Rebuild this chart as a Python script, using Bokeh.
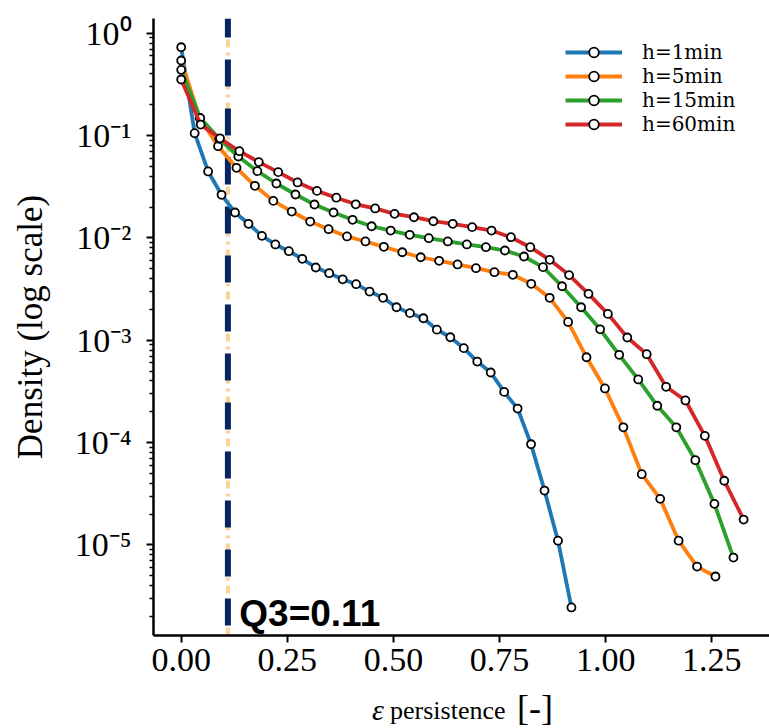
import math
from bokeh.plotting import figure
from bokeh.layouts import column
from bokeh.models import (Range1d, FixedTicker, CustomJSTickFormatter, Label,
                          Legend, LegendItem, ColumnDataSource, Div)
from bokeh.embed import file_html
from bokeh.resources import INLINE

# ---------------- data ----------------
labels = ["h=1min", "h=5min", "h=15min", "h=60min"]
colors = ["#1f77b4", "#ff7f0e", "#2ca02c", "#d62728"]

x_1min = [0.0, 0.0317, 0.0634, 0.0951, 0.1268, 0.1585, 0.1902, 0.2219, 0.2536, 0.2853,
          0.3170, 0.3487, 0.3804, 0.4121, 0.4438, 0.4755, 0.5072, 0.5389, 0.5706, 0.6023,
          0.6340, 0.6657, 0.6974, 0.7291, 0.7608, 0.7925, 0.8242, 0.8559, 0.8876, 0.9193]
d_1min = [0.729, 0.1054, 0.04457, 0.02636, 0.01770, 0.01374, 0.01047, 0.00863, 0.00741, 0.00625,
          0.00514, 0.00452, 0.00394, 0.00353, 0.00299, 0.00260, 0.00210, 0.00184, 0.00164, 0.00127,
          0.00107, 0.000837, 0.000619, 0.000484, 0.000313, 0.000215, 0.0000964, 0.0000340,
          0.0000110, 0.00000245]

x_5min = [0.0, 0.0434, 0.0868, 0.1302, 0.1736, 0.2170, 0.2604, 0.3038, 0.3472, 0.3906,
          0.4340, 0.4774, 0.5208, 0.5642, 0.6076, 0.6510, 0.6944, 0.7378, 0.7812, 0.8246,
          0.8680, 0.9114, 0.9548, 0.9982, 1.0416, 1.0850, 1.1284, 1.1718, 1.2152, 1.2586]
d_5min = [0.541, 0.149, 0.0787, 0.0484, 0.0323, 0.0230, 0.0181, 0.01445, 0.01216, 0.01033,
          0.00923, 0.00818, 0.00724, 0.00647, 0.00597, 0.00550, 0.00506, 0.00462, 0.00436, 0.00356,
          0.00260, 0.00151, 0.000682, 0.000338, 0.000141, 0.0000491, 0.0000282, 0.0000110,
          0.00000615, 0.00000492]

x_15min = [0.0, 0.0449, 0.0897, 0.1346, 0.1794, 0.2243, 0.2692, 0.3140, 0.3589, 0.4037,
           0.4486, 0.4935, 0.5383, 0.5832, 0.6280, 0.6729, 0.7178, 0.7626, 0.8075, 0.8523,
           0.8972, 0.9421, 0.9869, 1.0318, 1.0766, 1.1215, 1.1664, 1.2112, 1.2561, 1.3009]
d_15min = [0.4385, 0.148, 0.0929, 0.0624, 0.0449, 0.0340, 0.02655, 0.0212, 0.0177, 0.01503,
           0.0130, 0.0118, 0.01072, 0.00993, 0.00923, 0.00863, 0.00811, 0.00753, 0.00658, 0.00518,
           0.00337, 0.00210, 0.00128, 0.000721, 0.000414, 0.000229, 0.000141, 0.0000673,
           0.0000252, 0.00000753]

x_60min = [0.0, 0.0457, 0.0914, 0.1371, 0.1828, 0.2285, 0.2741, 0.3198, 0.3655, 0.4112,
           0.4569, 0.5026, 0.5483, 0.5940, 0.6397, 0.6854, 0.7310, 0.7767, 0.8224, 0.8681,
           0.9138, 0.9595, 1.0052, 1.0509, 1.0966, 1.1423, 1.1879, 1.2336, 1.2793, 1.3250]
d_60min = [0.353, 0.128, 0.0940, 0.0703, 0.0550, 0.0439, 0.0348, 0.0288, 0.0247, 0.0213,
           0.0194, 0.01718, 0.01592, 0.01455, 0.01374, 0.01274, 0.0118, 0.01016, 0.00811, 0.00611,
           0.00433, 0.00284, 0.00181, 0.001064, 0.000731, 0.000351, 0.000258, 0.0001164,
           0.0000424, 0.0000177]

Q3 = 0.11

x_ticks = [0.0, 0.25, 0.5, 0.75, 1.0, 1.25]
x_tick_labels = ["0.00", "0.25", "0.50", "0.75", "1.00", "1.25"]
y_ticks = [1e-5, 1e-4, 1e-3, 1e-2, 1e-1, 1.0]

series_x = [x_1min, x_5min, x_15min, x_60min]
series_d = [d_1min, d_5min, d_15min, d_60min]

# ---------------- figure ----------------
X_START, X_END = -0.06525, 1.3859
Y_START, Y_END = 1.304e-6, 1.392
SERIF = "Liberation Serif"

p = figure(width=769, height=685, y_axis_type="log",
           x_range=Range1d(X_START, X_END), y_range=Range1d(Y_START, Y_END),
           output_backend="svg", toolbar_location=None,
           min_border_left=153, min_border_right=0, min_border_top=18, min_border_bottom=50)
p.outline_line_color = None
p.xgrid.visible = False
p.ygrid.visible = False
p.background_fill_color = "white"
p.border_fill_color = "white"

# x axis
p.xaxis.ticker = FixedTicker(ticks=x_ticks)
p.xaxis.major_label_overrides = {t: l for t, l in zip(x_ticks, x_tick_labels)}
p.xaxis.axis_line_width = 2.5
p.xaxis.major_tick_line_width = 2
p.xaxis.major_tick_out = 7
p.xaxis.major_tick_in = 0
p.xaxis.minor_tick_out = 0
p.xaxis.minor_tick_in = 0
p.xaxis.major_label_text_font = SERIF
p.xaxis.major_label_text_font_size = "34px"
p.xaxis.major_label_text_color = "black"
p.xaxis.major_label_standoff = 6

# y axis
minor = []
for e in range(-6, 1):
    for k in range(2, 10):
        minor.append(k * 10.0 ** e)
p.yaxis.ticker = FixedTicker(ticks=y_ticks, minor_ticks=minor)
p.yaxis.formatter = CustomJSTickFormatter(code="""
const e = Math.round(Math.log10(tick));
const sup = {'-':'\u207b','0':'\u2070','1':'\u00b9','2':'\u00b2','3':'\u00b3','4':'\u2074',
             '5':'\u2075','6':'\u2076','7':'\u2077','8':'\u2078','9':'\u2079'};
return '10' + String(e).split('').map(c => sup[c]).join('');
""")
p.yaxis.axis_line_width = 2.5
p.yaxis.major_tick_line_width = 2
p.yaxis.major_tick_out = 7
p.yaxis.major_tick_in = 0
p.yaxis.minor_tick_line_width = 1.5
p.yaxis.minor_tick_out = 4
p.yaxis.minor_tick_in = 0
p.yaxis.major_label_text_font = SERIF
p.yaxis.major_label_text_font_size = "34px"
p.yaxis.major_label_text_color = "black"
p.yaxis.major_label_standoff = 15
p.yaxis.axis_label = "Density (log scale)"
p.yaxis.axis_label_text_font = SERIF
p.yaxis.axis_label_text_font_size = "35px"
p.yaxis.axis_label_text_font_style = "normal"
p.yaxis.axis_label_text_color = "black"
p.yaxis.axis_label_standoff = 22

# Q3 vertical line (drawn below the series)
p.line(x=[Q3, Q3], y=[Y_END, Y_START], line_color="#fcd395", line_width=4,
       line_dash="8 5 3 5")
p.line(x=[Q3, Q3], y=[Y_END, Y_START], line_color="#06245f", line_width=6,
       line_dash="27 22", line_dash_offset=8)

# series + one legend row per series (rows 24 px apart)
row_centers = [583, 559, 535, 511]   # px above the frame bottom
ROW_H = 24
for xs, ds, c, lab, rc in zip(series_x, series_d, colors, labels, row_centers):
    src = ColumnDataSource(dict(x=xs, y=ds))
    lr = p.line("x", "y", source=src, line_color=c, line_width=3.8)
    sr = p.scatter("x", "y", source=src, size=8, fill_color="white",
                   line_color="black", line_width=1.8)
    lg = Legend(items=[LegendItem(label=lab, renderers=[lr, sr])],
                location=(412, rc - ROW_H // 2), orientation="vertical",
                glyph_width=57, glyph_height=ROW_H, label_height=ROW_H,
                label_standoff=20, spacing=0, padding=0, margin=0,
                border_line_color=None, background_fill_alpha=0,
                label_text_font="DejaVu Serif", label_text_font_size="20px",
                label_text_color="black", label_text_baseline="middle")
    p.add_layout(lg)

# Q3 label
p.add_layout(Label(x=Q3, y=21.7, y_units="screen", x_offset=11.4,
                   text=f"Q3={Q3:.2f}", text_font="Liberation Sans", text_font_style="bold",
                   text_font_size="37px", text_color="black", text_baseline="alphabetic",
                   text_align="left"))

# x-axis label (epsilon with subscript) as real HTML text below the figure
xlabel_html = (
    '<div style="position:relative;width:769px;height:40px;font-family:\'Liberation Serif\';color:black;">'
    '<span style="position:absolute;left:372px;bottom:0px;font-size:30px;line-height:1;font-style:italic;">\u03b5</span>'
    '<span style="position:absolute;left:390px;bottom:1px;font-size:26px;line-height:1;">persistence</span>'
    '<span style="position:absolute;left:517px;bottom:-1px;font-size:36px;line-height:1;">[-]</span>'
    '</div>'
)
xlabel = Div(text=xlabel_html, width=769, height=40, margin=0,
             styles={"margin": "0", "padding": "0"})

layout = column(p, xlabel, spacing=0)
open("out.html", "w").write(file_html(layout, INLINE))
